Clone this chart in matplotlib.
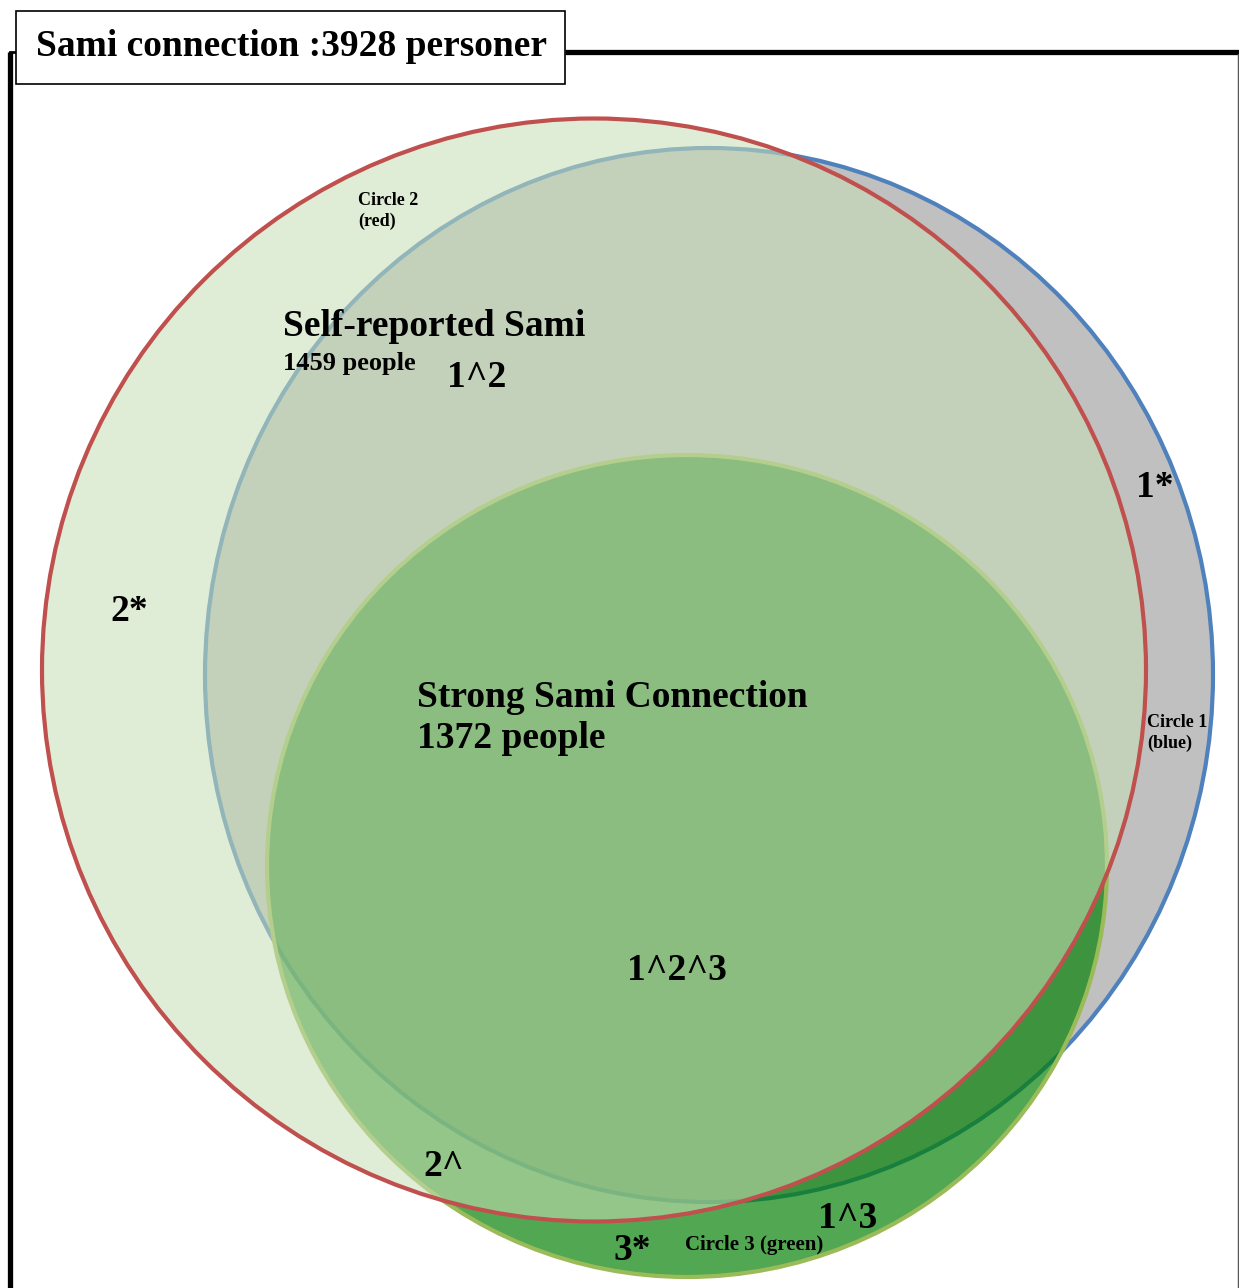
import matplotlib
matplotlib.use('Agg')
import matplotlib.pyplot as plt
from matplotlib.patches import Ellipse, Rectangle

plt.rcParams['font.family'] = ['Liberation Serif', 'DejaVu Serif']
plt.rcParams['font.weight'] = 'bold'

# chart data
title = "Sami connection :3928 personer"
circle_names = ["Circle 1\n(blue)", "Circle 2\n(red)", "Circle 3 (green)"]
# venn circles: centre x, centre y, width, height (picture units, y down)
blue_circle = [709, 675, 1008, 1054]
red_circle = [594, 670, 1104, 1103]
green_circle = [687, 866, 840, 822]
group_labels = ["Self-reported Sami", "Strong Sami Connection"]
group_counts = [1459, 1372]
region_labels = ["1*", "2*", "3*", "1^2", "1^3", "2^", "1^2^3"]

fig = plt.figure(figsize=(12.39, 12.88), dpi=100)
ax = fig.add_axes([0, 0, 1, 1])
ax.set_xlim(0, 1239)
ax.set_ylim(1288, 0)
ax.axis('off')

def ell(c, **kw):
    return Ellipse((c[0], c[1]), c[2], c[3], **kw)

# blue circle (gray fill), then green, then red on top
ax.add_patch(ell(blue_circle, facecolor='#C0C0C0', edgecolor='#4F81BD', lw=3, zorder=1))
ax.add_patch(ell(green_circle, facecolor=(0, 127/255, 0, 0.68), edgecolor='#9BBB59', lw=3, zorder=2))
ax.add_patch(ell(red_circle, facecolor=(200/255, 223/255, 182/255, 0.56), edgecolor='none', zorder=3))
ax.add_patch(ell(red_circle, facecolor='none', edgecolor='#C0504D', lw=3, zorder=4))

# frame
ax.plot([10, 10], [52, 1288], color='black', lw=3.8, solid_capstyle='butt', zorder=5)
ax.plot([10, 17], [52, 52], color='black', lw=2, zorder=5)
ax.plot([565, 1239], [52, 52], color='black', lw=3.8, solid_capstyle='butt', zorder=5)
ax.plot([1238, 1238], [54, 1288], color='#555555', lw=1, zorder=5)

# title box
ax.add_patch(Rectangle((16, 11), 549, 73, facecolor='white', edgecolor='black', lw=1.2, zorder=6))
ax.text(291, 46, title, fontsize=27, ha='center', va='center', zorder=7)

# circle names
ax.text(1147, 733, circle_names[0], fontsize=13, ha='left', va='center', linespacing=1.3, zorder=8)
ax.text(358, 211, circle_names[1], fontsize=13, ha='left', va='center', linespacing=1.3, zorder=8)
ax.text(685, 1245, circle_names[2], fontsize=15, ha='left', va='center', zorder=8)

# group labels
ax.text(283, 326, group_labels[0], fontsize=27, ha='left', va='center', zorder=8)
ax.text(283, 363, f"{group_counts[0]} people", fontsize=19, ha='left', va='center', zorder=8)
ax.text(417, 718, f"{group_labels[1]}\n{group_counts[1]} people", fontsize=27,
        ha='left', va='center', linespacing=1.22, zorder=8)

# region labels
region_pos = [(1136, 487), (110, 611), (613, 1251), (447, 377), (818, 1219), (423, 1167), (627, 970)]
for lab, (x, y) in zip(region_labels, region_pos):
    t = ax.text(x, y, lab, fontsize=27, ha='left', va='center', zorder=8)
    if lab == "3*":
        clip = Rectangle((0, 0), 1239, 1262, transform=ax.transData)
        t.set_clip_path(clip)

fig.savefig('out.png', dpi=100)
